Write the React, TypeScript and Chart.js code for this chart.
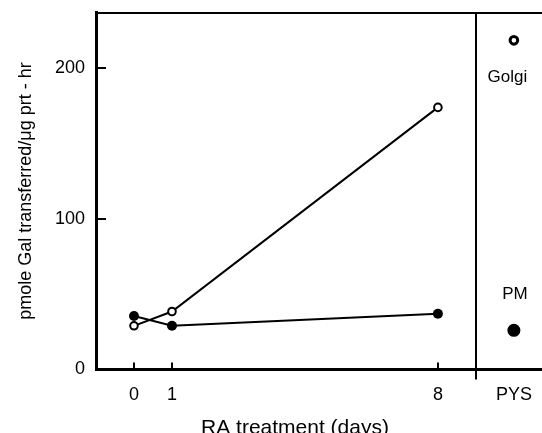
import React, { useEffect, useRef } from 'react';
import { Chart, registerables } from 'chart.js';

Chart.register(...registerables);

// ---- data ----
const days = [0, 1, 8];
const golgiRA = [29, 38.5, 174];
const pmRA = [35.5, 29, 37];
const pysX = 10;
const golgiPYS = 218.5;
const pmPYS = 26;
const xTickValues = [0, 1, 8, 10];
const xTickLabels = ['0', '1', '8', 'PYS'];
const xTickMarks = [0, 1, 8];
const yTickValues = [0, 100, 200];
const dividerAt = 9;
const labelNames = ['Golgi', 'PM'];
const labelXs = [9.83, 10.03];
const labelYs = [194, 50];
const xTitle = 'RA treatment (days)';
const yTitle = 'pmole Gal transferred/\u03bcg prt - hr';

const FONT = '"Liberation Sans", Arial, Helvetica, sans-serif';

const extras = {
  id: 'extras',
  afterDatasetsDraw(chart: any) {
    const { ctx, chartArea, scales } = chart;
    const x = scales.x;
    const y = scales.y;
    ctx.save();
    ctx.strokeStyle = '#000';
    ctx.lineWidth = 2;
    // inward tick marks
    ctx.beginPath();
    yTickValues.forEach((v) => {
      const py = Math.round(y.getPixelForValue(v));
      ctx.moveTo(chartArea.left, py);
      ctx.lineTo(chartArea.left + 10, py);
    });
    xTickMarks.forEach((v) => {
      const px = Math.round(x.getPixelForValue(v));
      ctx.moveTo(px, chartArea.bottom);
      ctx.lineTo(px, chartArea.bottom - 7);
    });
    // divider between panels
    const dx = Math.round(x.getPixelForValue(dividerAt));
    ctx.moveTo(dx, chartArea.top);
    ctx.lineTo(dx, chartArea.bottom + 10);
    ctx.stroke();
    // panel labels
    ctx.fillStyle = '#000';
    ctx.font = `17px ${FONT}`;
    ctx.textAlign = 'center';
    ctx.textBaseline = 'middle';
    labelNames.forEach((t, i) => {
      ctx.fillText(t, x.getPixelForValue(labelXs[i]), y.getPixelForValue(labelYs[i]));
    });
    // x title
    ctx.font = `21px ${FONT}`;
    ctx.fillText(xTitle, (chartArea.left + dx) / 2 + 9, chartArea.bottom + 58.5);
    ctx.restore();
  },
};

const zeroPad = (s: any) => {
  s.paddingTop = 0;
  s.paddingBottom = 0;
  s.paddingLeft = 0;
  s.paddingRight = 0;
};

export default function App() {
  const ref = useRef<HTMLCanvasElement>(null);
  useEffect(() => {
    if (!ref.current) return;
    const chart = new Chart(ref.current, {
      type: 'scatter',
      data: {
        datasets: [
          {
            label: 'Golgi',
            data: days.map((d, i) => ({ x: d, y: golgiRA[i] })),
            showLine: true,
            borderColor: '#000',
            borderWidth: 2,
            backgroundColor: '#fff',
            pointRadius: 3.8,
            pointBorderWidth: 2,
            pointBackgroundColor: '#fff',
            pointBorderColor: '#000',
          },
          {
            label: 'PM',
            data: days.map((d, i) => ({ x: d, y: pmRA[i] })),
            showLine: true,
            borderColor: '#000',
            borderWidth: 2,
            pointRadius: 5,
            pointBorderWidth: 0,
            pointBackgroundColor: '#000',
            backgroundColor: '#000',
          },
          {
            label: 'Golgi PYS',
            data: [{ x: pysX, y: golgiPYS }],
            showLine: false,
            pointRadius: 3.8,
            pointBorderWidth: 3,
            pointBackgroundColor: '#fff',
            pointBorderColor: '#000',
          },
          {
            label: 'PM PYS',
            data: [{ x: pysX, y: pmPYS }],
            showLine: false,
            pointRadius: 6.5,
            pointBorderWidth: 0,
            pointBackgroundColor: '#000',
            pointBorderColor: '#000',
          },
        ],
      },
      options: {
        animation: false,
        responsive: false,
        devicePixelRatio: 1,
        layout: { padding: 0, autoPadding: false },
        plugins: { legend: { display: false }, tooltip: { enabled: false }, title: { display: false } },
        scales: {
          x: {
            type: 'linear',
            position: 'bottom',
            min: -1,
            max: 10.74,
            afterBuildTicks: (s: any) => {
              s.ticks = xTickValues.map((v) => ({ value: v }));
            },
            afterFit: (s: any) => {
              s.height = 63.5;
              zeroPad(s);
            },
            ticks: {
              color: '#000',
              font: { family: FONT, size: 18 },
              padding: 15,
              maxRotation: 0,
              autoSkip: false,
              callback: (v: any) => {
                const i = xTickValues.indexOf(Number(v));
                return i >= 0 ? xTickLabels[i] : '';
              },
            },
            grid: { display: false, drawTicks: false },
            border: { display: true, color: '#000', width: 3 },
          },
          xTop: {
            type: 'linear',
            position: 'top',
            min: -1,
            max: 10.74,
            afterFit: (s: any) => {
              s.height = 12.5;
              zeroPad(s);
            },
            ticks: { display: false },
            grid: { display: false, drawTicks: false },
            border: { display: true, color: '#000', width: 2 },
          },
          y: {
            type: 'linear',
            position: 'left',
            min: 0,
            max: 237,
            afterBuildTicks: (s: any) => {
              s.ticks = yTickValues.map((v) => ({ value: v }));
            },
            afterFit: (s: any) => {
              s.width = 96;
              zeroPad(s);
            },
            ticks: {
              color: '#000',
              font: { family: FONT, size: 18 },
              padding: 11,
            },
            grid: { display: false, drawTicks: false },
            border: { display: true, color: '#000', width: 3 },
            title: {
              display: true,
              text: yTitle,
              color: '#000',
              font: { family: FONT, size: 18 },
              padding: { top: 15, bottom: 0 },
            },
          },
        },
      } as any,
      plugins: [extras],
    });
    return () => chart.destroy();
  }, []);

  return (
    <div style={{ position: 'absolute', left: 0, top: 0, width: 542, height: 433, overflow: 'hidden', background: '#fff' }}>
      <canvas ref={ref} width={542} height={433} style={{ width: 542, height: 433 }} />
    </div>
  );
}
